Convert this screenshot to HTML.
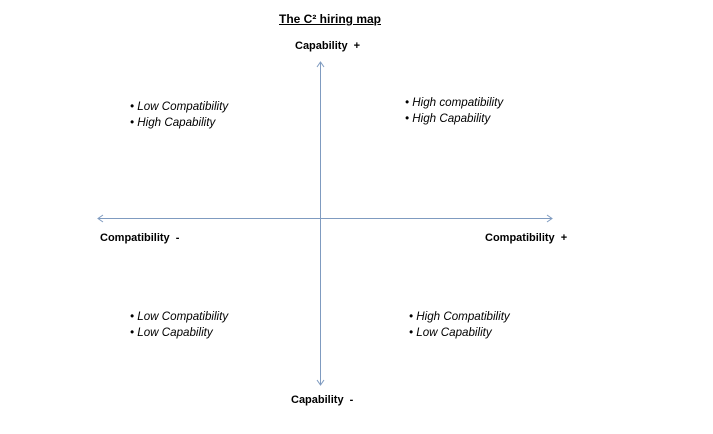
<!DOCTYPE html>
<html><head><style>
body{margin:0;width:713px;height:434px;background:#fff;position:relative;overflow:hidden;font-family:"Liberation Sans",sans-serif;color:#000}
.t{position:absolute;white-space:nowrap;font-size:11px}
.b{font-weight:bold}
.i{font-style:italic;line-height:16px;font-size:11.6px}
</style></head><body>
<svg width="713" height="434" style="position:absolute;left:0;top:0">
<g stroke="#7f9bc0" stroke-width="1" fill="none">
<line x1="320.5" y1="62" x2="320.5" y2="385"/>
<line x1="98" y1="218.5" x2="552" y2="218.5"/>
<polyline points="317,67 320.5,62 324,67"/>
<polyline points="317,380 320.5,385 324,380"/>
<polyline points="103,215 98,218.5 103,222"/>
<polyline points="547,215 552,218.5 547,222"/>
</g>
</svg>
<div class="t b" style="left:279px;top:12px;font-size:12px;text-decoration:underline">The C² hiring map</div>
<div class="t b" style="left:295px;top:40px">Capability &nbsp;+</div>
<div class="t b" style="left:291px;top:394px">Capability &nbsp;-</div>
<div class="t b" style="left:100px;top:232px">Compatibility &nbsp;-</div>
<div class="t b" style="left:485px;top:232px">Compatibility &nbsp;+</div>
<div class="t i" style="left:130px;top:99px">• Low Compatibility<br>• High Capability</div>
<div class="t i" style="left:405px;top:95px">• High compatibility<br>• High Capability</div>
<div class="t i" style="left:130px;top:309px">• Low Compatibility<br>• Low Capability</div>
<div class="t i" style="left:409px;top:309px">• High Compatibility<br>• Low Capability</div>
</body></html>
